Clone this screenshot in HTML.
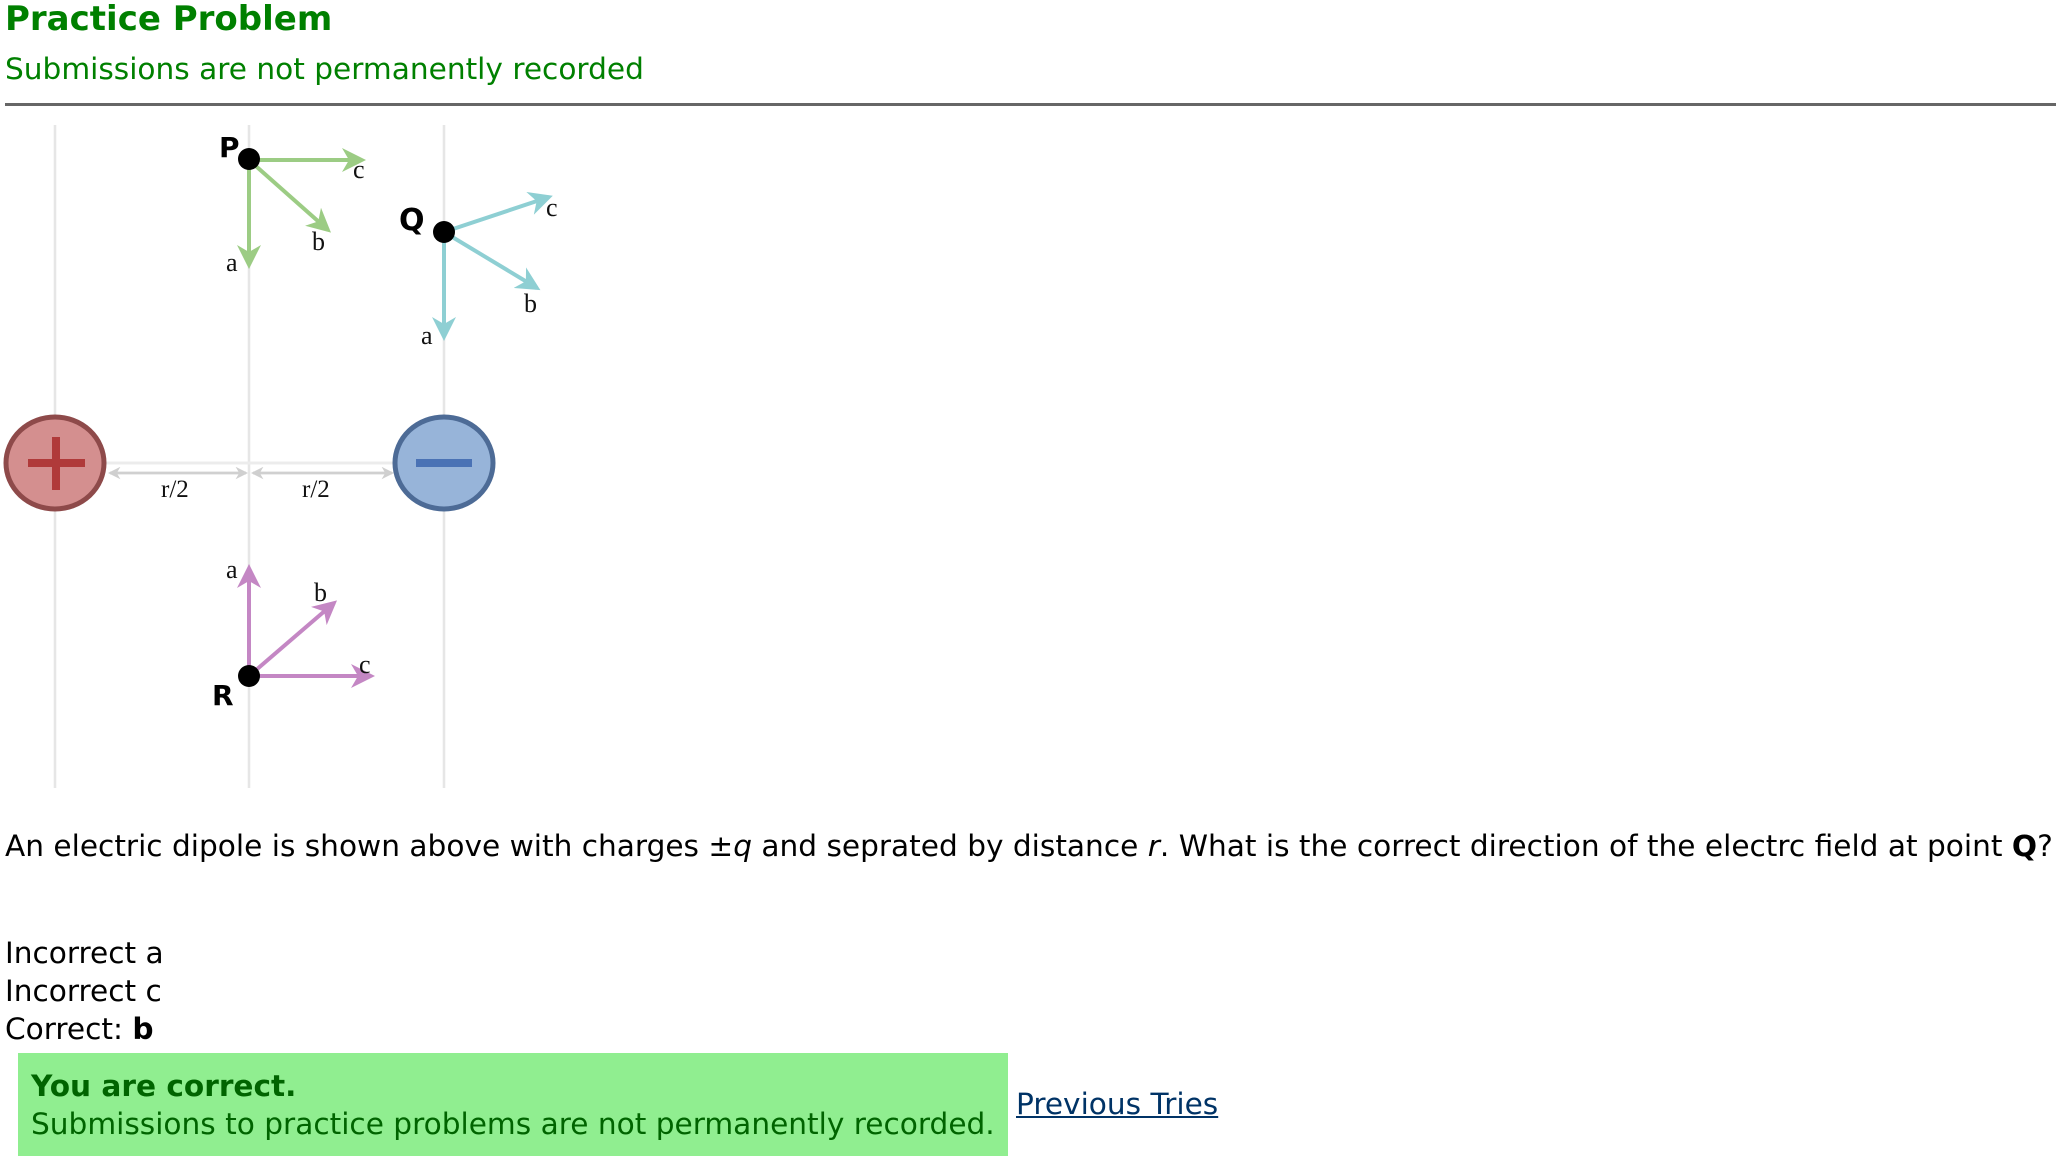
<!DOCTYPE html>
<html><head><meta charset="utf-8"><style>
body{margin:0;width:2056px;height:1160px;background:#fff;position:relative;overflow:hidden;font-family:"DejaVu Sans","Liberation Sans",sans-serif}
.t{position:absolute;white-space:nowrap;margin:0;line-height:1}
</style></head><body>
<div class="t" style="left:5px;top:2px;font-size:34px;font-weight:bold;color:#008000">Practice Problem</div>
<div class="t" style="left:5px;top:55px;font-size:29.6px;color:#008000">Submissions are not permanently recorded</div>
<div style="position:absolute;left:5px;top:103px;width:2051px;height:3px;background:#666"></div>
<svg style="position:absolute;left:0;top:0" width="2056" height="800" viewBox="0 0 2056 800">
<defs>
<marker id="g" viewBox="0 0 12 12" refX="10" refY="6" markerWidth="6" markerHeight="6" orient="auto" markerUnits="strokeWidth"><path d="M0,0 L12,6 L0,12 L3.5,6z" fill="#9ccc84"/></marker>
<marker id="tq" viewBox="0 0 12 12" refX="10" refY="6" markerWidth="6" markerHeight="6" orient="auto" markerUnits="strokeWidth"><path d="M0,0 L12,6 L0,12 L3.5,6z" fill="#8ecfd3"/></marker>
<marker id="pu" viewBox="0 0 12 12" refX="10" refY="6" markerWidth="6" markerHeight="6" orient="auto" markerUnits="strokeWidth"><path d="M0,0 L12,6 L0,12 L3.5,6z" fill="#c487c4"/></marker>
<marker id="gr" viewBox="0 0 12 12" refX="10" refY="6" markerWidth="5" markerHeight="5" orient="auto" markerUnits="strokeWidth"><path d="M0,0 L12,6 L0,12 L3.5,6z" fill="#cfcfcf"/></marker>
</defs>
<g stroke="#e6e6e6" stroke-width="2.5">
<line x1="55" y1="125" x2="55" y2="788"/><line x1="249" y1="125" x2="249" y2="788"/><line x1="444" y1="125" x2="444" y2="788"/>
</g>
<line x1="100" y1="463" x2="400" y2="463" stroke="#ececec" stroke-width="3"/>
<g stroke="#d0d0d0" stroke-width="2.5">
<line x1="110" y1="473" x2="246" y2="473" marker-end="url(#gr)"/><line x1="246" y1="473" x2="110" y2="473" marker-end="url(#gr)"/>
<line x1="253" y1="473" x2="392" y2="473" marker-end="url(#gr)"/><line x1="392" y1="473" x2="253" y2="473" marker-end="url(#gr)"/>
</g>
<g font-family="Liberation Serif,serif" font-size="25" fill="#111">
<text x="161" y="497">r/2</text><text x="302" y="497">r/2</text>
</g>
<ellipse cx="55" cy="463" rx="49" ry="46" fill="#d48f8f" stroke="#8e4a4a" stroke-width="5"/>
<rect x="28" y="459" width="57" height="8" fill="#b03a3a"/><rect x="52" y="437" width="8" height="53" fill="#b03a3a"/>
<ellipse cx="444" cy="463" rx="49" ry="46" fill="#97b4d9" stroke="#4d6b96" stroke-width="5"/>
<rect x="416" y="459" width="56" height="8" fill="#4a72b5"/>
<g stroke="#9ccc84" stroke-width="4" fill="none">
<line x1="249" y1="160" x2="362" y2="160" marker-end="url(#g)"/>
<line x1="249" y1="160" x2="328" y2="230" marker-end="url(#g)"/>
<line x1="249" y1="160" x2="249" y2="265" marker-end="url(#g)"/>
</g>
<circle cx="249" cy="159" r="11" fill="#000"/>
<g stroke="#8ecfd3" stroke-width="4" fill="none">
<line x1="444" y1="232" x2="549" y2="197" marker-end="url(#tq)"/>
<line x1="444" y1="232" x2="537" y2="288" marker-end="url(#tq)"/>
<line x1="444" y1="232" x2="444" y2="337" marker-end="url(#tq)"/>
</g>
<circle cx="444" cy="232" r="11" fill="#000"/>
<g stroke="#c487c4" stroke-width="4" fill="none">
<line x1="249" y1="676" x2="249" y2="568" marker-end="url(#pu)"/>
<line x1="249" y1="676" x2="334" y2="603" marker-end="url(#pu)"/>
<line x1="249" y1="676" x2="371" y2="676" marker-end="url(#pu)"/>
</g>
<circle cx="249" cy="676" r="11" fill="#000"/>
<g font-family="DejaVu Sans,Liberation Sans,sans-serif" font-weight="bold" fill="#000">
<text x="219" y="157" font-size="28">P</text>
<text x="399" y="230" font-size="30">Q</text>
<text x="212" y="705" font-size="28">R</text>
</g>
<g font-family="Liberation Serif,serif" font-size="26" fill="#111">
<text x="353" y="178">c</text><text x="312" y="250">b</text><text x="226" y="271">a</text>
<text x="546" y="216">c</text><text x="524" y="312">b</text><text x="421" y="344">a</text>
<text x="226" y="578">a</text><text x="314" y="601">b</text><text x="359" y="673">c</text>
</g>
</svg>
<div class="t" style="left:5px;top:832px;font-size:29.6px;color:#000">An electric dipole is shown above with charges ±<i>q</i> and seprated by distance <i>r</i>. What is the correct direction of the electrc field at point <b>Q</b>?</div>
<div class="t" style="left:5px;top:939px;font-size:29.6px">Incorrect a</div>
<div class="t" style="left:5px;top:977px;font-size:29.6px">Incorrect c</div>
<div class="t" style="left:5px;top:1015px;font-size:29.6px">Correct: <b>b</b></div>
<div style="position:absolute;left:18px;top:1053px;width:990px;height:103px;background:#90ee90"></div>
<div class="t" style="left:31px;top:1072px;font-size:29.6px;font-weight:bold;color:#006400">You are correct.</div>
<div class="t" style="left:31px;top:1110px;font-size:29.6px;color:#006400">Submissions to practice problems are not permanently recorded.</div>
<div class="t" style="left:1016px;top:1090px;font-size:29.6px;color:#003366;text-decoration:underline">Previous Tries</div>
</body></html>
